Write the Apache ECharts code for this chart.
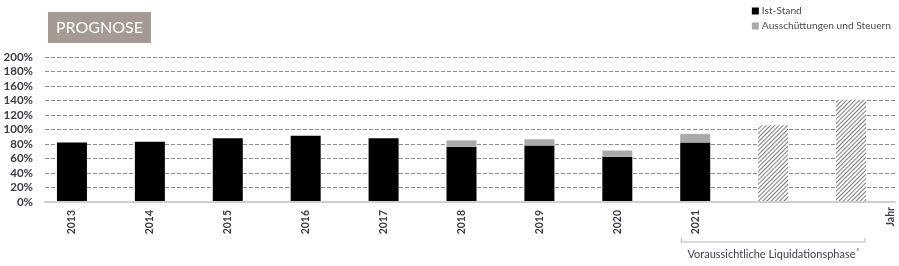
<!DOCTYPE html>
<html><head><meta charset="utf-8">
<script src="https://cdn.jsdelivr.net/npm/echarts@6/dist/echarts.min.js"></script>
<style>html,body{margin:0;padding:0;background:#fff}#c{width:899px;height:266px}</style>
</head><body><div id="c"></div>
<script>
const categories = ['2013','2014','2015','2016','2017','2018','2019','2020','2021','',''];
const istStand = [82, 83, 88, 91.5, 88, 76, 78, 62.5, 82, null, null];
const ausschuettungen = [null, null, null, null, null, 9, 8.5, 8.5, 12, null, null];
const prognose = [null, null, null, null, null, null, null, null, null, 106, 141];
const yTickLabels = ['0%','20%','40%','60%','80%','100%','120%','140%','160%','180%','200%'];
const seriesNames = ['Ist-Stand', 'Ausschüttungen und Steuern'];
const titleText = 'PROGNOSE';
const axisName = 'Jahr';
const bracketText = 'Voraussichtliche Liquidationsphase';
const bracketSup = '³';
const bracketRange = [8, 10];

const txt = '#3a3a48';
const font = 'Lato';
const chart = echarts.init(document.getElementById('c'), null, {renderer: 'canvas'});
const option = {
  animation: false,
  backgroundColor: '#fff',
  title: {
    text: titleText, left: 48, top: 12,
    backgroundColor: '#a49a93',
    padding: [8, 8, 7, 8],
    textStyle: {color: '#fff', fontSize: 16, fontWeight: 'normal', fontFamily: font, lineHeight: 16}
  },
  legend: {
    orient: 'vertical', right: 3, top: 1, itemWidth: 7, itemHeight: 7, itemGap: 5,
    icon: 'rect', data: seriesNames,
    textStyle: {fontFamily: font, fontSize: 10.2, color: '#4a4a55', padding: [0, 0, 0, -2]}
  },
  grid: [
    {left: 45, right: 4, top: 57, bottom: 64},
    {left: 33, right: 9, top: 57, bottom: 64}
  ],
  xAxis: [
    {gridIndex: 0, type: 'category', data: categories,
     axisLine: {lineStyle: {color: '#cfcfcf', width: 2}}, axisTick: {show: false}, axisLabel: {show: false}, z: 5},
    {gridIndex: 1, type: 'category', data: categories,
     axisLine: {show: false}, axisTick: {show: false},
     axisLabel: {interval: 0, rotate: 90, margin: 8, fontFamily: font, fontWeight: 'bold', fontSize: 10.5, color: txt}}
  ],
  yAxis: [
    {gridIndex: 0, type: 'value', min: 0, max: 200, interval: 20,
     axisLine: {show: false}, axisTick: {show: false},
     axisLabel: {margin: 12, fontFamily: font, fontWeight: 'bold', fontSize: 11.5, color: txt,
       formatter: (v) => yTickLabels[Math.round(v / 20)]},
     splitLine: {lineStyle: {type: [4, 2], color: '#8c8c8c', width: 1}}},
    {gridIndex: 1, type: 'value', min: 0, max: 200, interval: 20, show: false, splitLine: {show: false}}
  ],
  series: [
    {name: seriesNames[0], type: 'bar', xAxisIndex: 1, yAxisIndex: 1, stack: 'a', barWidth: 30,
     data: istStand, itemStyle: {color: '#000'}, z: 3},
    {name: seriesNames[1], type: 'bar', xAxisIndex: 1, yAxisIndex: 1, stack: 'a', barWidth: 30,
     data: ausschuettungen, itemStyle: {color: '#a9abab'}, z: 3},
    {name: 'Prognose', type: 'bar', xAxisIndex: 1, yAxisIndex: 1, stack: 'a', barWidth: 30,
     data: prognose, z: 3,
     itemStyle: {color: '#fff', decal: {symbol: 'rect', symbolSize: 1, dashArrayX: [[1, 0]], dashArrayY: [1, 1.6], rotation: -Math.PI / 4, color: '#7a7a7a'}}}
  ]
};
chart.setOption(option);

const x0 = chart.convertToPixel({xAxisIndex: 1}, bracketRange[0]) - 14;
const x1 = chart.convertToPixel({xAxisIndex: 1}, bracketRange[1]) + 14;
const jahrX = chart.convertToPixel({xAxisIndex: 1}, categories.length - 1) + 40;
const yBase = chart.convertToPixel({yAxisIndex: 1}, 0);
chart.setOption({
  graphic: [
    {type: 'polyline', shape: {points: [[x0, yBase + 36], [x0, yBase + 40], [x1, yBase + 40], [x1, yBase + 36]]},
     style: {stroke: '#b5b5b5', lineWidth: 1, fill: null}},
    {type: 'text', x: (x0 + x1) / 2, y: yBase + 52,
     style: {text: '{a|' + bracketText + '}{s|' + bracketSup + '}', align: 'center', verticalAlign: 'middle',
       rich: {a: {fontFamily: font, fontSize: 11, fill: '#3d3d4f'}, s: {fontFamily: font, fontSize: 7, fill: '#3d3d4f', verticalAlign: 'top', padding: [0, 0, 4, 1]}}}},
    {type: 'text', x: jahrX, y: yBase + 5, rotation: Math.PI / 2,
     style: {text: axisName, align: 'right', verticalAlign: 'middle', fontFamily: font, fontWeight: 'bold', fontSize: 10.5, fill: txt}}
  ]
});
</script></body></html>
